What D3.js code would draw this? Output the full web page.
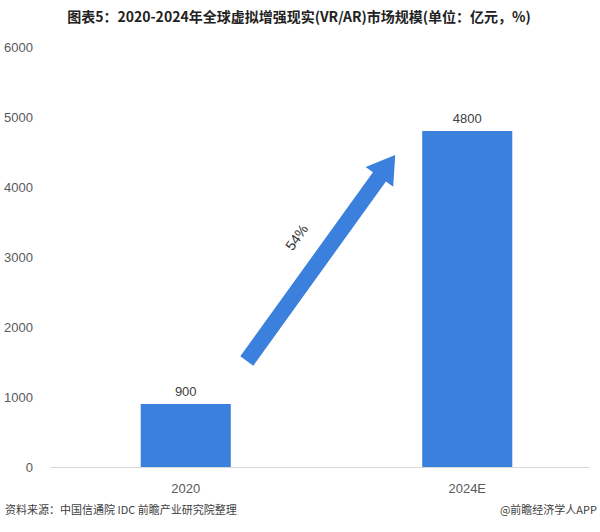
<!DOCTYPE html>
<html><head><meta charset="utf-8">
<script src="https://cdn.jsdelivr.net/npm/d3@7"></script>
<style>body{margin:0;background:#fff;}svg{display:block;font-family:"Noto Sans CJK SC","Microsoft YaHei",sans-serif;}</style>
</head><body><svg id="c" width="600" height="532"></svg>
<script>
const categories = ["2020", "2024E"];
const values = [900, 4800];
const yTicks = [0, 1000, 2000, 3000, 4000, 5000, 6000];
const growthLabel = "54%";
const title = "图表5：2020-2024年全球虚拟增强现实(VR/AR)市场规模(单位：亿元，%)";
const source = "资料来源：中国信通院 IDC 前瞻产业研究院整理";
const credit = "@前瞻经济学人APP";

const svg = d3.select("#c");
const x = d3.scaleBand().domain(categories).range([45, 608]).paddingInner(0.68).paddingOuter(0.34);
const y = d3.scaleLinear().domain([0, 6000]).range([467, 47]);
const blue = "#3B80DC";

svg.append("text").attr("x", 299).attr("y", 22).attr("text-anchor", "middle")
  .attr("font-size", 14).attr("font-weight", "bold").attr("fill", "#222").text(title);

// y tick labels
svg.selectAll(".yt").data(yTicks).enter().append("text")
  .attr("x", d => d === 0 ? 33 : 4).attr("y", d => y(d) + 5)
  .attr("text-anchor", d => d === 0 ? "end" : "start")
  .attr("font-family", "Liberation Sans, Arial, sans-serif")
  .attr("font-size", 13).attr("fill", "#595959").text(d => d);

// baseline
svg.append("line").attr("x1", 50).attr("x2", 590).attr("y1", y(0) + 0.5).attr("y2", y(0) + 0.5)
  .attr("stroke", "#d9d9d9");

svg.selectAll(".bar").data(values).enter().append("rect")
  .attr("x", (d, i) => x(categories[i])).attr("y", d => y(d))
  .attr("width", x.bandwidth()).attr("height", d => y(0) - y(d)).attr("fill", blue);

svg.selectAll(".vl").data(values).enter().append("text")
  .attr("x", (d, i) => x(categories[i]) + x.bandwidth() / 2).attr("y", d => y(d) - 8)
  .attr("text-anchor", "middle").attr("font-family", "Liberation Sans, Arial, sans-serif")
  .attr("font-size", 13).attr("fill", "#404040").text(d => d);

svg.selectAll(".xl").data(categories).enter().append("text")
  .attr("x", d => x(d) + x.bandwidth() / 2).attr("y", 493)
  .attr("text-anchor", "middle").attr("font-family", "Liberation Sans, Arial, sans-serif")
  .attr("font-size", 13).attr("fill", "#595959").text(d => d);

// growth arrow between bars
const x0 = x(categories[0]) + x.bandwidth() + 16, y0 = y(values[0]) - 43;
const x1 = x(categories[1]) - 27, y1 = y(values[1]) + 24;
const dx = x1 - x0, dy = y1 - y0, len = Math.hypot(dx, dy), ang = Math.atan2(dy, dx) * 180 / Math.PI;
const sw = 8, hw = 17, hl = 27;
const g = svg.append("g").attr("transform", `translate(${x0},${y0}) rotate(${ang})`);
g.append("path").attr("fill", blue)
  .attr("d", `M0,${-sw} L${len - hl},${-sw} L${len - hl},${-hw} L${len},0 L${len - hl},${hw} L${len - hl},${sw} L0,${sw} Z`);
g.append("text").attr("x", len * 0.51).attr("y", -27)
  .attr("text-anchor", "middle").attr("font-family", "Liberation Sans, Arial, sans-serif")
  .attr("font-size", 14).attr("fill", "#333").text(growthLabel);

svg.append("text").attr("x", 5).attr("y", 514).attr("font-size", 11).attr("fill", "#404040").text(source);
svg.append("text").attr("x", 597).attr("y", 514).attr("text-anchor", "end").attr("font-size", 11).attr("fill", "#404040").text(credit);
</script></body></html>
